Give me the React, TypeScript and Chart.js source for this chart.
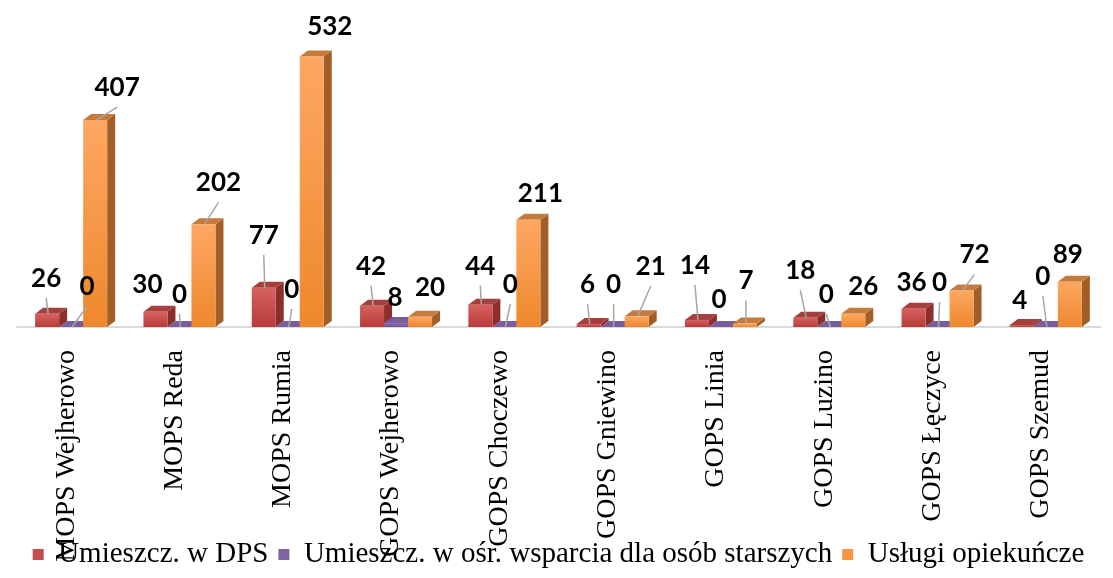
import React, { useEffect, useRef } from "react";
import { Chart, registerables } from "chart.js";

Chart.register(...registerables);

const categories = [
  "MOPS Wejherowo",
  "MOPS Reda",
  "MOPS Rumia",
  "GOPS Wejherowo",
  "GOPS Choczewo",
  "GOPS Gniewino",
  "GOPS Linia",
  "GOPS Luzino",
  "GOPS Łęczyce",
  "GOPS Szemud",
];
const seriesNames = [
  "Umieszcz. w DPS",
  "Umieszcz. w ośr. wsparcia dla osób starszych",
  "Usługi opiekuńcze",
];
const dpsValues = [26, 30, 77, 42, 44, 6, 14, 18, 36, 4];
const osrValues = [0, 0, 0, 8, 0, 0, 0, 0, 0, 0];
const uslugiValues = [407, 202, 532, 20, 211, 21, 7, 26, 72, 89];

// data-label placement relative to the bar top: [dx, dy, leader line 1/0]
const dpsLabelPos = [[-1, -36, 1], [-8, -28, 0], [0, -53, 1], [-1, -40, 1], [0, -39, 1], [-1, -40, 1], [-2, -55, 1], [-5, -48, 1], [-2, -27, 0], [-2, -25, 0]];
const osrLabelPos = [[16, -41, 1], [0, -33, 1], [4, -38, 1], [-1, -26, 0], [6, -43, 1], [1, -43, 1], [-2, -28, 0], [-3, -33, 1], [2, -45, 1], [-3, -51, 1]];
const uslugiLabelPos = [[22, -33, 1], [15, -42, 1], [18, -31, 0], [10, -30, 0], [12, -27, 0], [14, -50, 1], [1, -43, 1], [10, -28, 0], [13, -36, 1], [-2, -28, 0]];

const legendColors = ["#c0504d", "#8064a2", "#f79646"];
const frontColors = [
  ["#d6625f", "#b83b39"],
  ["#8d70b1", "#6f5492"],
  ["#fda763", "#ee882c"],
];
const sideColors = ["#8c2e2c", "#54406e", "#a25e28"];
const topColors = ["#a5403e", "#7a5e9b", "#c47b3d"];

const DEPTH_X = 8;
const DEPTH_Y = 6;

const serif = '"Liberation Serif", "Times New Roman", serif';

function frontGradient(idx: number) {
  return (c: any) => {
    const chart = c.chart;
    if (!chart.chartArea || c.raw === undefined) return frontColors[idx][1];
    const ys = chart.scales.y;
    const top = ys.getPixelForValue(c.raw);
    const base = ys.getPixelForValue(0);
    if (base - top < 1) return frontColors[idx][1];
    const g = chart.ctx.createLinearGradient(0, top, 0, base);
    g.addColorStop(0, frontColors[idx][0]);
    g.addColorStop(1, frontColors[idx][1]);
    return g;
  };
}

const threeDPlugin = {
  id: "threeD",
  afterLayout(chart: any) {
    // let the long rotated category labels run under the legend, as in the original
    chart.scales.x.bottom = chart.height;
  },
  beforeDatasetsDraw(chart: any) {
    const ctx = chart.ctx;
    ctx.save();
    chart.data.datasets.forEach((_: any, di: number) => {
      const meta = chart.getDatasetMeta(di);
      meta.data.forEach((el: any) => {
        const { x, y, base, width } = el.getProps(["x", "y", "base", "width"], true);
        const l = x - width / 2;
        const r = x + width / 2;
        if (base - y > 0.5) {
          ctx.fillStyle = sideColors[di];
          ctx.beginPath();
          ctx.moveTo(r, y);
          ctx.lineTo(r + DEPTH_X, y - DEPTH_Y);
          ctx.lineTo(r + DEPTH_X, base - DEPTH_Y);
          ctx.lineTo(r, base);
          ctx.closePath();
          ctx.fill();
        }
        ctx.fillStyle = topColors[di];
        ctx.beginPath();
        ctx.moveTo(l, y);
        ctx.lineTo(l + DEPTH_X, y - DEPTH_Y);
        ctx.lineTo(r + DEPTH_X, y - DEPTH_Y);
        ctx.lineTo(r, y);
        ctx.closePath();
        ctx.fill();
      });
    });
    ctx.restore();
  },
};

const labelPlugin = {
  id: "valueLabels",
  afterDatasetsDraw(chart: any) {
    const ctx = chart.ctx;
    const positions = [dpsLabelPos, osrLabelPos, uslugiLabelPos];
    ctx.save();
    ctx.font = 'bold 26px Lato, "Open Sans", sans-serif';
    ctx.textAlign = "center";
    ctx.textBaseline = "alphabetic";
    chart.data.datasets.forEach((ds: any, di: number) => {
      const meta = chart.getDatasetMeta(di);
      meta.data.forEach((el: any, i: number) => {
        const { x, y } = el.getProps(["x", "y"], true);
        const p = positions[di][i];
        const cx = x + p[0];
        const cy = y + p[1];
        if (p[2]) {
          ctx.strokeStyle = "#a6a6a6";
          ctx.lineWidth = 1.5;
          ctx.beginPath();
          ctx.moveTo(cx, cy + 20);
          ctx.lineTo(x + 1, y);
          ctx.stroke();
        }
        ctx.fillStyle = "#000";
        ctx.fillText(String(ds.data[i]), cx, cy + 9);
      });
    });
    ctx.restore();
  },
};

export default function App() {
  const ref = useRef<HTMLCanvasElement | null>(null);
  useEffect(() => {
    document.body.style.margin = "0";
    if (!ref.current) return;
    const chart = new Chart(ref.current, {
      type: "bar",
      data: {
        labels: categories,
        datasets: [
          { label: seriesNames[0], data: dpsValues, backgroundColor: frontGradient(0), borderWidth: 0 },
          { label: seriesNames[1], data: osrValues, backgroundColor: frontGradient(1), borderWidth: 0 },
          { label: seriesNames[2], data: uslugiValues, backgroundColor: frontGradient(2), borderWidth: 0 },
        ],
      },
      options: {
        responsive: false,
        animation: false,
        devicePixelRatio: 1,
        layout: { padding: { top: 22, left: 17, right: 13, bottom: 0 } },
        datasets: { bar: { categoryPercentage: 0.665, barPercentage: 1 } },
        scales: {
          x: {
            grid: { display: false, drawTicks: false },
            border: { display: true, color: "#d9d9d9", width: 2 },
            ticks: {
              autoSkip: false,
              minRotation: 90,
              maxRotation: 90,
              padding: 23,
              labelOffset: -5,
              color: "#000",
              font: { family: serif, size: 28 },
            },
            afterFit: (s: any) => {
              s.height = 203;
            },
          },
          y: { display: false, min: 0, max: 600 },
        },
        plugins: {
          tooltip: { enabled: false },
          legend: {
            position: "bottom",
            maxHeight: 48,
            labels: {
              boxWidth: 11,
              boxHeight: 11,
              padding: 10,
              color: "#000",
              font: { family: serif, size: 29 },
              generateLabels: () =>
                seriesNames.map((n, i) => ({
                  text: n,
                  fillStyle: legendColors[i],
                  strokeStyle: legendColors[i],
                  lineWidth: 0,
                  hidden: false,
                  datasetIndex: i,
                  fontColor: "#000",
                })),
            },
          },
        },
      },
      plugins: [threeDPlugin, labelPlugin],
    });
    return () => chart.destroy();
  }, []);
  return <canvas ref={ref} width={1113} height={578} style={{ display: "block" }} />;
}
